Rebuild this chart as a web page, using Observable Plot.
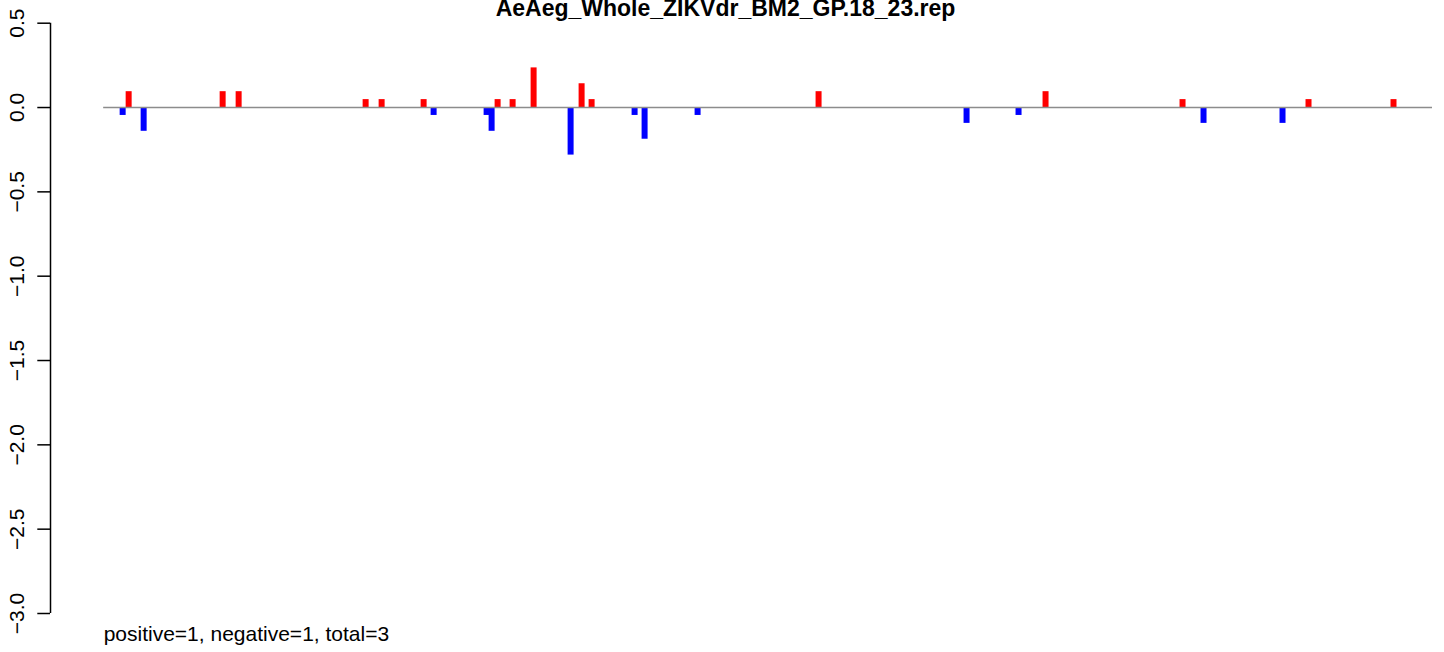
<!DOCTYPE html>
<html>
<head>
<meta charset="utf-8">
<script src="https://cdn.jsdelivr.net/npm/d3@7"></script>
<script src="https://cdn.jsdelivr.net/npm/@observablehq/plot@0.6"></script>
<style>
  html, body { margin: 0; padding: 0; background: white; }
  #chart { width: 1444px; height: 652px; }
</style>
</head>
<body>
<div id="chart"></div>
<script>
// ---- data ----
const chartTitle = "AeAeg_Whole_ZIKVdr_BM2_GP.18_23.rep";
const captionText = "positive=1, negative=1, total=3";
const seqStart = 0;
const seqEnd = 1329;
const positions = [19, 25, 40, 119, 135, 262, 278, 320, 330, 383, 388, 394, 409, 430, 467, 478, 488, 531, 541, 594, 715, 863, 915, 942, 1079, 1100, 1179, 1205, 1290];
const values = [-0.047, 0.094, -0.141, 0.094, 0.094, 0.047, 0.047, 0.047, -0.047, -0.047, -0.141, 0.047, 0.047, 0.235, -0.282, 0.141, 0.047, -0.047, -0.188, -0.047, 0.094, -0.094, -0.047, 0.094, 0.047, -0.094, -0.094, 0.047, 0.047];
const yTicks = [0.5, 0, -0.5, -1, -1.5, -2, -2.5, -3];
const posColor = "#FF0000";
const negColor = "#0000FF";

const bars = positions.map((p, i) => ({pos: p, value: values[i]}));
const pad = (seqEnd - seqStart) * 0.04;
const xDomain = [seqStart - pad, seqEnd + 12];

const chart = Plot.plot({
  width: 1444,
  height: 652,
  marginLeft: 50,
  marginRight: 0,
  marginTop: 22.7,
  marginBottom: 39,
  style: {fontFamily: "'Liberation Sans', Arial, Helvetica, sans-serif", fontSize: "21px", background: "white", color: "black", overflow: "visible"},
  x: {domain: xDomain, axis: null},
  y: {domain: [-3, 0.5], axis: null},
  color: {type: "identity"},
  marks: [
    Plot.ruleX([xDomain[0]], {y1: yTicks[0], y2: yTicks[yTicks.length - 1], stroke: "black", strokeWidth: 1.5}),
    // tick marks
    Plot.axisY(yTicks, {
      tickSize: 12.7,
      tickFormat: () => "",
      stroke: "black",
      strokeWidth: 1.5,
      label: null
    }),
    // rotated tick labels
    Plot.axisY(yTicks, {
      tickSize: 0,
      tickPadding: 26.7,
      tickFormat: d3.format(".1f"),
      rotate: -90,
      textAnchor: "middle",
      lineAnchor: "bottom",
      fontSize: 21,
      fill: "black",
      label: null
    }),
    Plot.ruleX(bars, {x: "pos", y1: 0, y2: "value", stroke: d => d.value > 0 ? posColor : negColor, strokeWidth: 6}),
    Plot.ruleY([0], {x1: seqStart, x2: seqEnd, stroke: "#8c8c8c", strokeWidth: 1.5}),
    Plot.text([chartTitle], {frameAnchor: "top", dx: -22, dy: -7, lineAnchor: "bottom", fontWeight: "bold", fontSize: 23, fill: "black"}),
    Plot.text([captionText], {x: seqStart, frameAnchor: "bottom", dy: 27, textAnchor: "start", lineAnchor: "bottom", fontSize: 21, fill: "black"})
  ]
});
document.getElementById("chart").appendChild(chart);
</script>
</body>
</html>
